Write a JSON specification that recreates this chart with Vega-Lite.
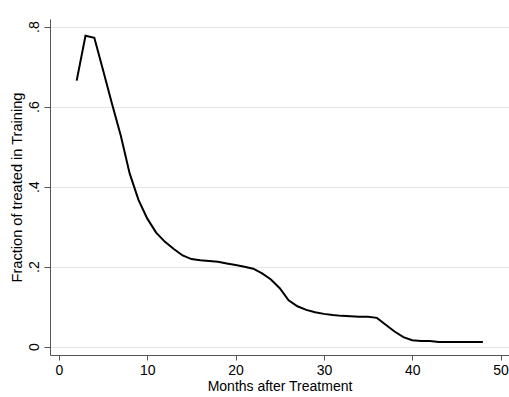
{
  "$schema": "https://vega.github.io/schema/vega-lite/v6.json",
  "width": 459,
  "height": 336,
  "autosize": {"type": "none"},
  "padding": {"left": 50, "top": 19, "right": 0, "bottom": 42},
  "background": "white",
  "config": {
    "view": {"stroke": null},
    "font": "Liberation Sans",
    "axis": {
      "labelFont": "Liberation Sans",
      "titleFont": "Liberation Sans",
      "labelFontSize": 14,
      "titleFontSize": 14,
      "titleFontWeight": "normal",
      "labelColor": "#000000",
      "titleColor": "#000000",
      "domainColor": "#555555",
      "tickColor": "#555555",
      "gridColor": "#e6e6e6",
      "gridWidth": 1
    }
  },
  "data": {
    "values": [
      {"month": 2, "fraction": 0.665},
      {"month": 3, "fraction": 0.777},
      {"month": 4, "fraction": 0.772},
      {"month": 5, "fraction": 0.69},
      {"month": 6, "fraction": 0.607},
      {"month": 7, "fraction": 0.527},
      {"month": 8, "fraction": 0.433},
      {"month": 9, "fraction": 0.367},
      {"month": 10, "fraction": 0.32},
      {"month": 11, "fraction": 0.285},
      {"month": 12, "fraction": 0.262},
      {"month": 13, "fraction": 0.244},
      {"month": 14, "fraction": 0.228},
      {"month": 15, "fraction": 0.219},
      {"month": 16, "fraction": 0.216},
      {"month": 17, "fraction": 0.214},
      {"month": 18, "fraction": 0.212},
      {"month": 19, "fraction": 0.208},
      {"month": 20, "fraction": 0.204},
      {"month": 21, "fraction": 0.2},
      {"month": 22, "fraction": 0.195},
      {"month": 23, "fraction": 0.183},
      {"month": 24, "fraction": 0.168},
      {"month": 25, "fraction": 0.146},
      {"month": 26, "fraction": 0.116},
      {"month": 27, "fraction": 0.101},
      {"month": 28, "fraction": 0.092},
      {"month": 29, "fraction": 0.086},
      {"month": 30, "fraction": 0.082},
      {"month": 31, "fraction": 0.079},
      {"month": 32, "fraction": 0.077},
      {"month": 33, "fraction": 0.076},
      {"month": 34, "fraction": 0.075},
      {"month": 35, "fraction": 0.075},
      {"month": 36, "fraction": 0.072},
      {"month": 37, "fraction": 0.055},
      {"month": 38, "fraction": 0.038},
      {"month": 39, "fraction": 0.024},
      {"month": 40, "fraction": 0.016},
      {"month": 41, "fraction": 0.014},
      {"month": 42, "fraction": 0.014},
      {"month": 43, "fraction": 0.012},
      {"month": 44, "fraction": 0.012},
      {"month": 45, "fraction": 0.012},
      {"month": 46, "fraction": 0.012},
      {"month": 47, "fraction": 0.012},
      {"month": 48, "fraction": 0.012}
    ]
  },
  "mark": {"type": "line", "color": "#000000", "strokeWidth": 2},
  "encoding": {
    "x": {
      "field": "month",
      "type": "quantitative",
      "scale": {"domain": [-1.02, 50.96], "nice": false, "zero": false},
      "axis": {
        "title": "Months after Treatment",
        "values": [0, 10, 20, 30, 40, 50],
        "grid": false,
        "tickSize": 5,
        "labelPadding": 3,
        "titlePadding": 2,
        "labelFlush": false
      }
    },
    "y": {
      "field": "fraction",
      "type": "quantitative",
      "scale": {"domain": [-0.0208, 0.819], "nice": false, "zero": false},
      "axis": {
        "title": "Fraction of treated in Training",
        "titleFontSize": 14.6,
        "values": [0, 0.2, 0.4, 0.6, 0.8],
        "grid": true,
        "tickSize": 6,
        "labelPadding": 3,
        "labelAngle": -90,
        "labelAlign": "center",
        "labelBaseline": "bottom",
        "titlePadding": 3,
        "labelFlush": false,
        "labelExpr": "datum.value == 0 ? '0' : replace(format(datum.value, '.1f'), '0.', '.')"
      }
    }
  }
}
